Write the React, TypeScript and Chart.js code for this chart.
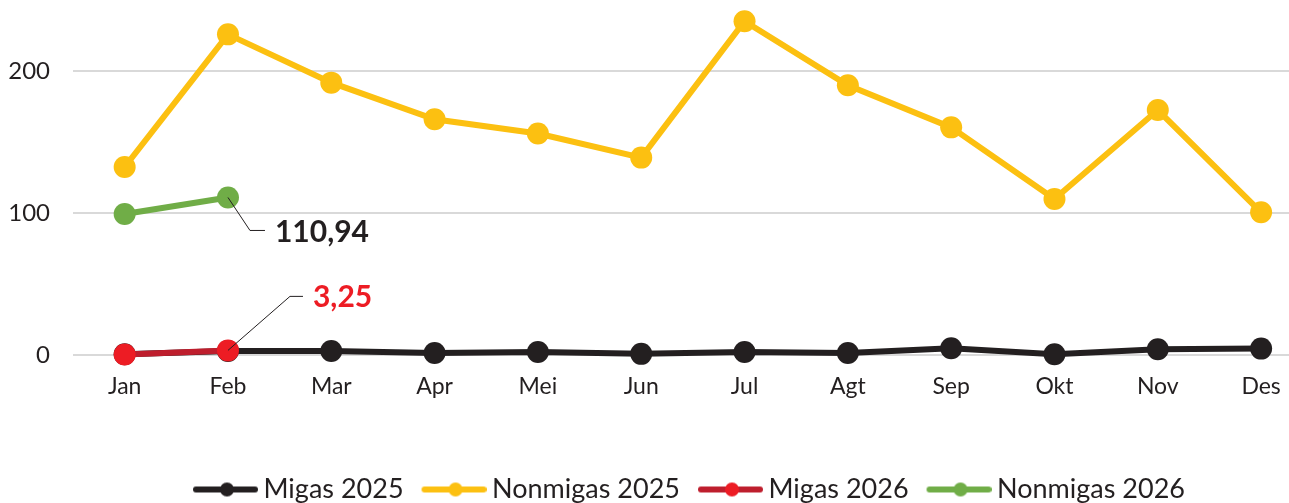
import React, { useEffect, useRef } from 'react';
import { Chart, registerables } from 'chart.js';

Chart.register(...registerables);

const months = ['Jan', 'Feb', 'Mar', 'Apr', 'Mei', 'Jun', 'Jul', 'Agt', 'Sep', 'Okt', 'Nov', 'Des'];
const migas2025 = [0.5, 2.8, 2.8, 1.4, 2.1, 0.8, 2.1, 1.4, 4.7, 0.5, 4.0, 4.5];
const nonmigas2025 = [132.4, 225.8, 191.8, 166, 156, 139, 235, 190, 160.3, 109.9, 172.5, 100.5];
const migas2026 = [0.3, 3.25];
const nonmigas2026 = [99.3, 110.94];
const yTicks = [0, 100, 200];
const seriesNames = ['Migas 2025', 'Nonmigas 2025', 'Migas 2026', 'Nonmigas 2026'];

const INK = '#231F20';
const YELLOW = '#FCC011';
const RED_LINE = '#BE1E2D';
const RED_DOT = '#ED1C24';
const GREEN = '#70AD47';
const FONT = 'Lato, "Open Sans", sans-serif';

const toPoints = (arr: number[]) => arr.map((y, x) => ({ x, y }));
const fmt = (v: number) => v.toFixed(2).replace('.', ',');

const callouts = [
  { ds: 3, idx: 1, color: INK, elbow: [22, 33], end: 37, text: [47, 35] },
  { ds: 2, idx: 1, color: RED_DOT, elbow: [62, -54], end: 75, text: [85, -53] },
];

function makeSwatch(line: string, dot: string) {
  const c = document.createElement('canvas');
  c.width = 73;
  c.height = 16;
  const g = c.getContext('2d')!;
  g.strokeStyle = line;
  g.lineWidth = 6;
  g.lineCap = 'round';
  g.beginPath();
  g.moveTo(11, 8);
  g.lineTo(70, 8);
  g.stroke();
  g.fillStyle = dot;
  g.beginPath();
  g.arc(42, 8, 7, 0, Math.PI * 2);
  g.fill();
  return c;
}

const calloutPlugin = {
  id: 'callouts',
  afterLayout(chart: any) {
    if (chart.legend) {
      chart.legend.left += 8;
      chart.legend.right += 8;
    }
  },
  afterDatasetsDraw(chart: any) {
    const ctx = chart.ctx;
    callouts.forEach((c) => {
      const meta = chart.getDatasetMeta(c.ds);
      const el = meta.data[c.idx];
      if (!el) return;
      const x = el.x;
      const y = el.y;
      const value = chart.data.datasets[c.ds].data[c.idx].y;
      ctx.save();
      ctx.strokeStyle = INK;
      ctx.lineWidth = 1;
      ctx.beginPath();
      ctx.moveTo(x, y);
      ctx.lineTo(x + c.elbow[0], y + c.elbow[1]);
      ctx.lineTo(x + c.end, y + c.elbow[1]);
      ctx.stroke();
      ctx.fillStyle = c.color;
      ctx.font = `bold 30px ${FONT}`;
      ctx.textAlign = 'left';
      ctx.textBaseline = 'middle';
      ctx.fillText(fmt(value), x + c.text[0], y + c.text[1]);
      ctx.restore();
    });
  },
};

export default function App() {
  const ref = useRef<HTMLCanvasElement | null>(null);

  useEffect(() => {
    if (!ref.current) return;
    document.body.style.margin = '0';
    const swatches = [
      makeSwatch(INK, INK),
      makeSwatch(YELLOW, YELLOW),
      makeSwatch(RED_LINE, RED_DOT),
      makeSwatch(GREEN, GREEN),
    ];
    const mk = (label: string, data: number[], line: string, dot: string, order: number) => ({
      label,
      data: toPoints(data),
      borderColor: line,
      backgroundColor: dot,
      pointBackgroundColor: dot,
      pointBorderColor: dot,
      borderWidth: 6,
      pointRadius: 11,
      pointBorderWidth: 0,
      tension: 0,
      clip: false as any,
      order,
    });
    const chart = new Chart(ref.current, {
      type: 'line',
      data: {
        datasets: [
          mk(seriesNames[0], migas2025, INK, INK, 4),
          mk(seriesNames[1], nonmigas2025, YELLOW, YELLOW, 3),
          mk(seriesNames[2], migas2026, RED_LINE, RED_DOT, 2),
          mk(seriesNames[3], nonmigas2026, GREEN, GREEN, 1),
        ],
      },
      options: {
        responsive: false,
        animation: false,
        events: [],
        layout: { padding: 0, autoPadding: false },
        plugins: {
          tooltip: { enabled: false },
          legend: {
            position: 'bottom',
            fullSize: false,
            labels: {
              usePointStyle: true,
              pointStyleWidth: 57,
              padding: 18,
              color: INK,
              font: { family: FONT, size: 27 },
              generateLabels: (ch: any) =>
                ch.data.datasets.map((ds: any, i: number) => ({
                  text: ds.label,
                  pointStyle: swatches[i],
                  fillStyle: 'transparent',
                  strokeStyle: 'transparent',
                  lineWidth: 0,
                  fontColor: INK,
                  hidden: false,
                  datasetIndex: i,
                })),
            },
          },
        },
        scales: {
          x: {
            type: 'linear',
            min: -0.5,
            max: 11.27,
            grid: { display: false, drawTicks: false },
            border: { display: false },
            ticks: {
              autoSkip: false,
              maxRotation: 0,
              padding: 18,
              color: INK,
              font: { family: FONT, size: 23 },
              callback: (v: any) => (Number.isInteger(v) && v >= 0 && v < months.length ? months[v] : ''),
            },
            afterBuildTicks: (s: any) => {
              s.ticks = months.map((_, i) => ({ value: i }));
            },
            afterFit: (s: any) => {
              s.height = 103;
              s.paddingLeft = 0;
              s.paddingRight = 0;
            },
          },
          y: {
            type: 'linear',
            min: 0,
            max: 250,
            grid: { color: '#D9D9D9', lineWidth: 2, drawTicks: false },
            border: { display: false },
            ticks: {
              padding: 23,
              color: INK,
              font: { family: FONT, size: 24 },
            },
            afterBuildTicks: (s: any) => {
              s.ticks = yTicks.map((value) => ({ value }));
            },
            afterFit: (s: any) => {
              s.width = 73;
              s.paddingTop = 0;
              s.paddingBottom = 0;
            },
          },
        },
      } as any,
      plugins: [calloutPlugin],
    });
    return () => chart.destroy();
  }, []);

  return (
    <div style={{ position: 'absolute', left: 0, top: 0, width: 1289, height: 503, overflow: 'hidden', background: '#fff' }}>
      <canvas ref={ref} width={1289} height={513} style={{ width: 1289, height: 513, display: 'block' }} />
    </div>
  );
}
